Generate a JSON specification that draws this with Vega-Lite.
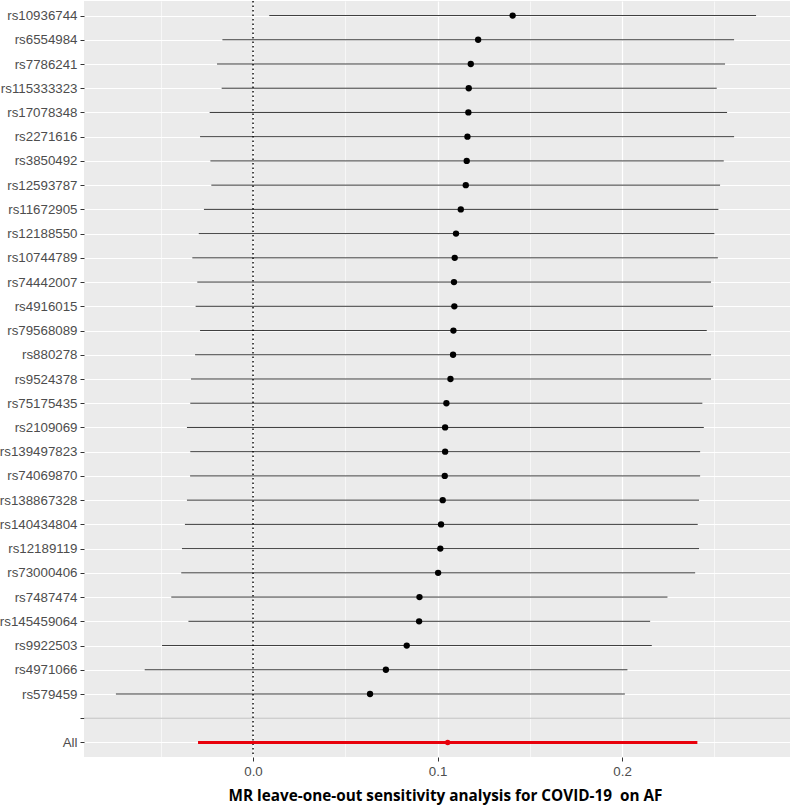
{
  "$schema": "https://vega.github.io/schema/vega-lite/v6.json",
  "width": 706,
  "height": 756,
  "autosize": {"type": "none"},
  "padding": {"left": 84, "top": 1, "right": 0, "bottom": 49},
  "background": "white",
  "config": {
    "view": {"fill": "#EBEBEB", "stroke": null},
    "font": "Liberation Sans"
  },
  "datasets": {
    "loo": [
      {"SNP": "rs10936744", "b": 0.1407, "lo": 0.0088, "up": 0.2726, "grp": "snp"},
      {"SNP": "rs6554984", "b": 0.1220, "lo": -0.0166, "up": 0.2607, "grp": "snp"},
      {"SNP": "rs7786241", "b": 0.1180, "lo": -0.0195, "up": 0.2558, "grp": "snp"},
      {"SNP": "rs115333323", "b": 0.1169, "lo": -0.0170, "up": 0.2513, "grp": "snp"},
      {"SNP": "rs17078348", "b": 0.1167, "lo": -0.0235, "up": 0.2569, "grp": "snp"},
      {"SNP": "rs2271616", "b": 0.1162, "lo": -0.0287, "up": 0.2607, "grp": "snp"},
      {"SNP": "rs3850492", "b": 0.1158, "lo": -0.0231, "up": 0.2551, "grp": "snp"},
      {"SNP": "rs12593787", "b": 0.1153, "lo": -0.0226, "up": 0.2531, "grp": "snp"},
      {"SNP": "rs11672905", "b": 0.1126, "lo": -0.0266, "up": 0.2522, "grp": "snp"},
      {"SNP": "rs12188550", "b": 0.1100, "lo": -0.0294, "up": 0.2500, "grp": "snp"},
      {"SNP": "rs10744789", "b": 0.1093, "lo": -0.0329, "up": 0.2519, "grp": "snp"},
      {"SNP": "rs74442007", "b": 0.1089, "lo": -0.0302, "up": 0.2482, "grp": "snp"},
      {"SNP": "rs4916015", "b": 0.1091, "lo": -0.0311, "up": 0.2493, "grp": "snp"},
      {"SNP": "rs79568089", "b": 0.1086, "lo": -0.0287, "up": 0.2459, "grp": "snp"},
      {"SNP": "rs880278", "b": 0.1084, "lo": -0.0314, "up": 0.2482, "grp": "snp"},
      {"SNP": "rs9524378", "b": 0.1070, "lo": -0.0336, "up": 0.2482, "grp": "snp"},
      {"SNP": "rs75175435", "b": 0.1048, "lo": -0.0340, "up": 0.2435, "grp": "snp"},
      {"SNP": "rs2109069", "b": 0.1041, "lo": -0.0358, "up": 0.2443, "grp": "snp"},
      {"SNP": "rs139497823", "b": 0.1041, "lo": -0.0340, "up": 0.2423, "grp": "snp"},
      {"SNP": "rs74069870", "b": 0.1039, "lo": -0.0341, "up": 0.2423, "grp": "snp"},
      {"SNP": "rs138867328", "b": 0.1028, "lo": -0.0358, "up": 0.2417, "grp": "snp"},
      {"SNP": "rs140434804", "b": 0.1019, "lo": -0.0369, "up": 0.2410, "grp": "snp"},
      {"SNP": "rs12189119", "b": 0.1015, "lo": -0.0385, "up": 0.2417, "grp": "snp"},
      {"SNP": "rs73000406", "b": 0.1003, "lo": -0.0389, "up": 0.2396, "grp": "snp"},
      {"SNP": "rs7487474", "b": 0.0902, "lo": -0.0443, "up": 0.2246, "grp": "snp"},
      {"SNP": "rs145459064", "b": 0.0900, "lo": -0.0350, "up": 0.2152, "grp": "snp"},
      {"SNP": "rs9922503", "b": 0.0833, "lo": -0.0493, "up": 0.2161, "grp": "snp"},
      {"SNP": "rs4971066", "b": 0.0720, "lo": -0.0587, "up": 0.2029, "grp": "snp"},
      {"SNP": "rs579459", "b": 0.0634, "lo": -0.0743, "up": 0.2015, "grp": "snp"},
      {"SNP": "All", "b": 0.1055, "lo": -0.0298, "up": 0.2408, "grp": "all"}
    ]
  },
  "encoding": {
    "y": {
      "field": "SNP",
      "type": "ordinal",
      "sort": ["rs10936744","rs6554984","rs7786241","rs115333323","rs17078348","rs2271616","rs3850492","rs12593787","rs11672905","rs12188550","rs10744789","rs74442007","rs4916015","rs79568089","rs880278","rs9524378","rs75175435","rs2109069","rs139497823","rs74069870","rs138867328","rs140434804","rs12189119","rs73000406","rs7487474","rs145459064","rs9922503","rs4971066","rs579459","","All"],
      "scale": {
        "type": "point",
        "padding": 0.6,
        "domain": ["rs10936744","rs6554984","rs7786241","rs115333323","rs17078348","rs2271616","rs3850492","rs12593787","rs11672905","rs12188550","rs10744789","rs74442007","rs4916015","rs79568089","rs880278","rs9524378","rs75175435","rs2109069","rs139497823","rs74069870","rs138867328","rs140434804","rs12189119","rs73000406","rs7487474","rs145459064","rs9922503","rs4971066","rs579459","","All"]
      },
      "axis": {
        "title": null,
        "domain": false,
        "grid": true,
        "gridColor": "white",
        "gridWidth": 1.2,
        "ticks": true,
        "tickColor": "#333333",
        "tickSize": 4,
        "tickWidth": 1,
        "labelColor": "#4D4D4D",
        "labelFontSize": 13.3,
        "labelPadding": 3,
        "labelFont": "Liberation Sans"
      }
    }
  },
  "layer": [
    {
      "data": {"name": "loo"},
      "transform": [{"filter": "datum.grp == 'snp'"}],
      "mark": {"type": "rule", "color": "#3A3A3A", "strokeWidth": 1},
      "encoding": {
        "x": {
          "field": "lo",
          "type": "quantitative",
          "scale": {"domain": [-0.0916, 0.291], "nice": false, "zero": false},
          "axis": {
            "title": "MR leave-one-out sensitivity analysis for COVID-19\u00a0 on AF",
            "titleFont": "Open Sans",
            "titleFontWeight": "bold",
            "titleFontSize": 15.3,
            "titleColor": "black",
            "titleX": 361,
            "titleY": 38,
            "titleAlign": "center",
            "titleBaseline": "middle",
            "values": [-0.05, 0, 0.05, 0.1, 0.15, 0.2, 0.25],
            "domain": false,
            "grid": true,
            "gridColor": "white",
            "gridWidth": {"condition": {"test": "round(datum.value*100) % 10 != 0", "value": 0.6}, "value": 1.2},
            "tickColor": "#333333",
            "tickOpacity": {"condition": {"test": "round(datum.value*100) % 10 != 0", "value": 0}, "value": 1},
            "tickSize": 4,
            "labelExpr": "round(datum.value*100) % 10 != 0 ? '' : format(datum.value, '.1f')",
            "labelColor": "#4D4D4D",
            "labelFontSize": 13.3,
            "labelPadding": 3,
            "labelFont": "Liberation Sans"
          }
        },
        "x2": {"field": "up"}
      }
    },
    {
      "data": {"values": [{"SNP": ""}]},
      "mark": {"type": "rule", "color": "#BEBEBE", "strokeWidth": 1.2},
      "encoding": {}
    },
    {
      "data": {"values": [{"v": 0}]},
      "mark": {"type": "rule", "color": "black", "strokeWidth": 1.4, "strokeDash": [1.5, 3]},
      "encoding": {
        "x": {"field": "v", "type": "quantitative"},
        "y": null
      }
    },
    {
      "data": {"name": "loo"},
      "transform": [{"filter": "datum.grp == 'snp'"}],
      "mark": {"type": "circle", "color": "black", "size": 40, "opacity": 1},
      "encoding": {
        "x": {"field": "b", "type": "quantitative"}
      }
    },
    {
      "data": {"name": "loo"},
      "transform": [{"filter": "datum.grp == 'all'"}],
      "mark": {"type": "rule", "color": "#E8000B", "strokeWidth": 3},
      "encoding": {
        "x": {"field": "lo", "type": "quantitative"},
        "x2": {"field": "up"}
      }
    },
    {
      "data": {"name": "loo"},
      "transform": [{"filter": "datum.grp == 'all'"}],
      "mark": {"type": "circle", "color": "#E8000B", "size": 30, "opacity": 1},
      "encoding": {
        "x": {"field": "b", "type": "quantitative"}
      }
    }
  ]
}
